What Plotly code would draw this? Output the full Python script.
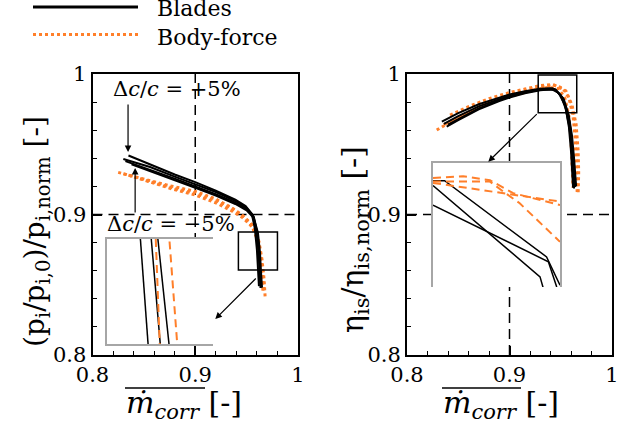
import plotly.graph_objects as go

# ---------------- data ----------------
# Left panel: normalised total-pressure ratio vs corrected mass flow
left_blades_x = [
    [0.835, 0.856, 0.880, 0.900, 0.920, 0.939, 0.949, 0.955, 0.958, 0.960, 0.961, 0.962],
    [0.830, 0.856, 0.880, 0.900, 0.920, 0.939, 0.949, 0.956, 0.9595, 0.9615, 0.9625, 0.9635],
    [0.832, 0.856, 0.880, 0.900, 0.920, 0.939, 0.950, 0.957, 0.960, 0.962, 0.963, 0.964],
    [0.838, 0.856, 0.880, 0.900, 0.920, 0.939, 0.950, 0.957, 0.961, 0.963, 0.964, 0.965],
]
left_blades_y = [
    [0.9420, 0.9355, 0.9285, 0.9230, 0.9170, 0.9105, 0.9060, 0.9005, 0.8900, 0.8750, 0.8610, 0.8490],
    [0.9395, 0.9338, 0.9270, 0.9217, 0.9160, 0.9096, 0.9053, 0.8996, 0.8890, 0.8747, 0.8605, 0.8477],
    [0.9380, 0.9320, 0.9255, 0.9200, 0.9145, 0.9085, 0.9040, 0.8985, 0.8880, 0.8740, 0.8600, 0.8480],
    [0.9357, 0.9310, 0.9245, 0.9190, 0.9135, 0.9075, 0.9030, 0.8975, 0.8870, 0.8730, 0.8590, 0.8480],
]
left_bf_x = [
    [0.825, 0.850, 0.875, 0.900, 0.920, 0.935, 0.945, 0.955, 0.961, 0.964, 0.966, 0.967],
    [0.835, 0.855, 0.877, 0.900, 0.920, 0.935, 0.946, 0.956, 0.962, 0.965, 0.967, 0.968],
    [0.830, 0.852, 0.876, 0.900, 0.920, 0.936, 0.947, 0.955, 0.960, 0.963, 0.965, 0.966],
]
left_bf_y = [
    [0.9300, 0.9252, 0.9205, 0.9165, 0.9110, 0.9050, 0.9000, 0.8930, 0.8830, 0.8700, 0.8560, 0.8440],
    [0.9280, 0.9232, 0.9183, 0.9138, 0.9083, 0.9028, 0.8978, 0.8908, 0.8808, 0.8678, 0.8538, 0.8415],
    [0.9290, 0.9242, 0.9193, 0.9150, 0.9097, 0.9040, 0.8985, 0.8920, 0.8830, 0.8700, 0.8560, 0.8450],
]

# Right panel: normalised isentropic efficiency vs corrected mass flow
right_blades_x = [
    [0.834, 0.850, 0.870, 0.890, 0.900, 0.915, 0.930, 0.942, 0.950, 0.955, 0.958, 0.960, 0.961, 0.962],
    [0.8387, 0.850, 0.870, 0.890, 0.900, 0.915, 0.930, 0.944, 0.952, 0.957, 0.960, 0.962, 0.963, 0.964],
    [0.836, 0.850, 0.870, 0.890, 0.900, 0.915, 0.930, 0.940, 0.948, 0.954, 0.958, 0.961, 0.962, 0.963],
    [0.840, 0.855, 0.870, 0.890, 0.900, 0.915, 0.930, 0.945, 0.953, 0.958, 0.961, 0.963, 0.964, 0.965],
]
right_blades_y = [
    [0.9661, 0.9722, 0.9785, 0.9835, 0.9855, 0.9878, 0.9895, 0.9898, 0.9850, 0.9750, 0.9620, 0.9450, 0.9300, 0.9190],
    [0.9625, 0.9672, 0.9748, 0.9808, 0.9832, 0.9862, 0.9884, 0.9893, 0.9830, 0.9720, 0.9580, 0.9420, 0.9300, 0.9195],
    [0.9645, 0.9700, 0.9770, 0.9823, 0.9845, 0.9872, 0.9892, 0.9896, 0.9865, 0.9780, 0.9640, 0.9470, 0.9320, 0.9185],
    [0.9640, 0.9698, 0.9755, 0.9812, 0.9838, 0.9868, 0.9888, 0.9890, 0.9820, 0.9700, 0.9560, 0.9400, 0.9280, 0.9200],
]
right_bf_x = [
    [0.842, 0.860, 0.880, 0.900, 0.915, 0.930, 0.942, 0.952, 0.958, 0.962, 0.964, 0.965, 0.966],
    [0.829, 0.850, 0.870, 0.890, 0.900, 0.915, 0.930, 0.944, 0.955, 0.961, 0.965, 0.967, 0.9675, 0.967],
    [0.836, 0.855, 0.875, 0.895, 0.910, 0.925, 0.938, 0.948, 0.954, 0.958, 0.960, 0.961, 0.962],
]
right_bf_y = [
    [0.9708, 0.9768, 0.9825, 0.9868, 0.9893, 0.9918, 0.9925, 0.9900, 0.9830, 0.9700, 0.9550, 0.9350, 0.9160],
    [0.9601, 0.9690, 0.9765, 0.9825, 0.9850, 0.9880, 0.9905, 0.9920, 0.9880, 0.9780, 0.9640, 0.9450, 0.9300, 0.9150],
    [0.9640, 0.9710, 0.9780, 0.9832, 0.9862, 0.9888, 0.9905, 0.9895, 0.9830, 0.9700, 0.9530, 0.9350, 0.9190],
]

# Zoomed insets
inset_left_blades_x = [[0.9526, 0.9555], [0.9567, 0.9601], [0.9592, 0.9634]]
inset_left_blades_y = [[0.890, 0.860], [0.890, 0.860], [0.890, 0.860]]
inset_left_bf_x = [[0.9584, 0.9599], [0.9636, 0.9665]]
inset_left_bf_y = [[0.890, 0.860], [0.8893, 0.860]]

inset_right_blades_x = [[0.930, 0.9332, 0.9613, 0.965], [0.930, 0.9595, 0.9604], [0.930, 0.9618, 0.9641]]
inset_right_blades_y = [[0.996, 0.996, 0.9788, 0.9724], [0.9949, 0.9743, 0.9717], [0.9905, 0.9777, 0.972]]
inset_right_bf_x = [[0.930, 0.9383, 0.9457, 0.9521, 0.965],
                    [0.930, 0.9457, 0.9521, 0.965],
                    [0.930, 0.9457, 0.9493, 0.9539, 0.965]]
inset_right_bf_y = [[0.9966, 0.997, 0.9961, 0.9932, 0.9905],
                    [0.9955, 0.9936, 0.9928, 0.9913],
                    [0.9958, 0.9958, 0.9936, 0.9909, 0.9822]]

axis_range = [0.8, 1.0]
tick_vals = [0.8, 0.9, 1.0]
tick_text = ["0.8", "0.9", "1"]
zoom_box_left = dict(x0=0.942, x1=0.980, y0=0.8605, y1=0.8875)
zoom_box_right = dict(x0=0.928, x1=0.9656, y0=0.9725, y1=0.9993)

# ---------------- figure ----------------
W, H = 626, 425
BLACK = "#000000"
ORANGE = "#ff7f2a"
GREY = "#a6a6a6"
FONT = "DejaVu Serif"

# panel geometry in pixels
L_X0, L_X1 = 92.5, 298.0
R_X0, R_X1 = 407.0, 612.0
P_Y0, P_Y1 = 74.0, 355.0          # top, bottom
IL = (107.0, 213.0, 239.0, 344.0)  # left inset  x0, x1, top, bottom
IR = (433.0, 560.0, 163.0, 287.0)  # right inset


def px(x):
    return x / W


def py(y):
    return 1 - y / H


def to_data(pxx, pyy, x0, x1):
    """pixel -> main-axis data coordinates (for placing covers)"""
    dx = axis_range[0] + (pxx - x0) / (x1 - x0) * (axis_range[1] - axis_range[0])
    dy = axis_range[1] - (pyy - P_Y0) / (P_Y1 - P_Y0) * (axis_range[1] - axis_range[0])
    return dx, dy


fig = go.Figure()


def add_lines(xs, ys, xa, ya, color, width, dash):
    for x, y in zip(xs, ys):
        fig.add_trace(go.Scatter(x=x, y=y, mode="lines", xaxis=xa, yaxis=ya,
                                 line=dict(color=color, width=width, dash=dash),
                                 showlegend=False, hoverinfo="skip"))


add_lines(left_bf_x, left_bf_y, "x", "y", ORANGE, 3, "dot")
add_lines(left_blades_x, left_blades_y, "x", "y", BLACK, 2, "solid")
add_lines(right_bf_x, right_bf_y, "x2", "y2", ORANGE, 3, "dot")
add_lines(right_blades_x, right_blades_y, "x2", "y2", BLACK, 2, "solid")
add_lines(inset_left_blades_x, inset_left_blades_y, "x3", "y3", BLACK, 1.5, "solid")
add_lines(inset_left_bf_x, inset_left_bf_y, "x3", "y3", ORANGE, 2, "8px,5px")
add_lines(inset_right_blades_x, inset_right_blades_y, "x4", "y4", BLACK, 1.5, "solid")
add_lines(inset_right_bf_x, inset_right_bf_y, "x4", "y4", ORANGE, 2, "8px,5px")

main_y_dom = [py(P_Y1), py(P_Y0)]
main_axis = dict(range=axis_range, showline=True, mirror=True, linecolor=BLACK, linewidth=2,
                 ticks="inside", ticklen=9, tickwidth=1.5, tickcolor=BLACK,
                 tickvals=tick_vals, ticktext=tick_text,
                 minor=dict(dtick=0.02, ticks="inside", ticklen=4, tickwidth=1, tickcolor=BLACK),
                 showgrid=False, zeroline=False, automargin=False,
                 tickfont=dict(family=FONT, size=21, color=BLACK))

inset_axis = dict(showticklabels=False, ticks="", showgrid=False, zeroline=False, automargin=False,
                  showline=True, linecolor=GREY, linewidth=1.5)

fig.update_layout(
    template="none",
    width=W, height=H, margin=dict(l=0, r=0, t=0, b=0, pad=0, autoexpand=False),
    paper_bgcolor="white", plot_bgcolor="rgba(0,0,0,0)",
    font=dict(family=FONT, color=BLACK),
    showlegend=False,
    xaxis=dict(main_axis, domain=[px(L_X0), px(L_X1)], anchor="y"),
    yaxis=dict(main_axis, domain=main_y_dom, anchor="x"),
    xaxis2=dict(main_axis, domain=[px(R_X0), px(R_X1)], anchor="y2"),
    yaxis2=dict(main_axis, domain=main_y_dom, anchor="x2"),
    xaxis3=dict(inset_axis, domain=[px(IL[0]), px(IL[1])], range=[0.94, 0.98], anchor="y3", mirror=True),
    yaxis3=dict(inset_axis, domain=[py(IL[3]), py(IL[2])], range=[0.86, 0.89], anchor="x3"),
    xaxis4=dict(inset_axis, domain=[px(IR[0]), px(IR[1])], range=[0.93, 0.965], anchor="y4", side="top"),
    yaxis4=dict(inset_axis, domain=[py(IR[3]), py(IR[2])], range=[0.972, 1.0], anchor="x4", mirror=True),
)

DASH = dict(color=BLACK, width=1.5, dash="10px,6px")
shapes = []
covers = (("x", "y", IL, L_X0, L_X1), ("x2", "y2", IR, R_X0, R_X1))
for xa, ya, box, x0, x1 in covers:
    shapes.append(dict(type="line", xref=xa, yref=ya, x0=0.9, x1=0.9, y0=0.8, y1=1.0,
                       line=DASH, layer="below"))
    shapes.append(dict(type="line", xref=xa, yref=ya, x0=0.8, x1=1.0, y0=0.9, y1=0.9,
                       line=DASH, layer="below"))
    cx0, cy0 = to_data(box[0], box[3], x0, x1)
    cx1, cy1 = to_data(box[1], box[2], x0, x1)
    shapes.append(dict(type="rect", xref=xa, yref=ya, x0=cx0, x1=cx1, y0=cy0, y1=cy1,
                       fillcolor="white", line=dict(width=0), layer="below"))
shapes.append(dict(type="rect", xref="x", yref="y", **zoom_box_left, line=dict(color=BLACK, width=1.5)))
shapes.append(dict(type="rect", xref="x2", yref="y2", **zoom_box_right, line=dict(color=BLACK, width=1.5)))
# x-title overlines
shapes.append(dict(type="line", xref="paper", yref="paper", x0=px(125), x1=px(205), y0=py(388), y1=py(388),
                   line=dict(color=BLACK, width=1.5)))
shapes.append(dict(type="line", xref="paper", yref="paper", x0=px(442), x1=px(521), y0=py(388), y1=py(388),
                   line=dict(color=BLACK, width=1.5)))
# legend samples
shapes.append(dict(type="line", xref="paper", yref="paper", x0=px(33), x1=px(138), y0=py(7), y1=py(7),
                   line=dict(color=BLACK, width=3)))
shapes.append(dict(type="line", xref="paper", yref="paper", x0=px(33), x1=px(138), y0=py(34.5), y1=py(34.5),
                   line=dict(color=ORANGE, width=3, dash="dot")))
fig.update_layout(shapes=shapes)

ann = []


def text(x, y, t, size, xanchor="center", angle=0):
    ann.append(dict(xref="paper", yref="paper", x=px(x), y=py(y), text=t, showarrow=False,
                    xanchor=xanchor, yanchor="middle", textangle=angle,
                    font=dict(family=FONT, size=size, color=BLACK)))


def arrow(xa, ya, x, y, ax, ay, width=1.2):
    ann.append(dict(xref=xa, yref=ya, x=x, y=y, ax=ax, ay=ay, axref="pixel", ayref="pixel",
                    text="", showarrow=True, arrowhead=2, arrowsize=1.1, arrowwidth=width,
                    arrowcolor=BLACK))


text(155, 9, "Blades", 22, xanchor="left")
text(155, 38, "Body-force", 22, xanchor="left")
text(177, 89, "Δ<i>c</i>/<i>c</i> = +5%", 21)
text(171, 224, "Δ<i>c</i>/<i>c</i> = −5%", 21)
text(36, 232, "(p<sub>i</sub>/p<sub>i,0</sub>)/p<sub>i,norm</sub> [-]", 28, angle=-90)
text(354, 240, "η<sub>is</sub>/η<sub>is,norm</sub> [-]", 30, angle=-90)
text(184, 404, "<i>ṁ</i><sub><i>corr</i></sub> [-]", 30)
text(501, 404, "<i>ṁ</i><sub><i>corr</i></sub> [-]", 30)

arrow("x", "y", 0.8346, 0.9445, 0, -49)
arrow("x", "y", 0.8415, 0.9331, 0, 46)
arrow("x", "y", 0.9195, 0.8256, 42, -42)
arrow("x2", "y2", 0.8793, 0.9376, 50, -49)
fig.update_layout(annotations=ann)

fig.write_html("out.html")
